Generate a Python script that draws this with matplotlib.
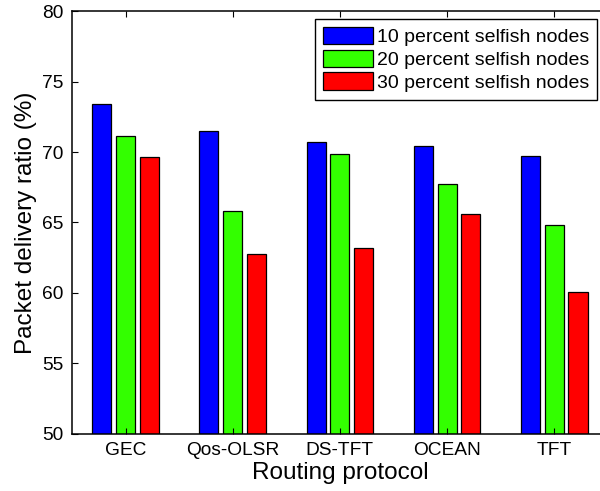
import numpy as np
import matplotlib
matplotlib.use('Agg')
import matplotlib.pyplot as plt

# Packet delivery ratio per routing protocol under different selfish-node rates
protocols = ['GEC', 'Qos-OLSR', 'DS-TFT', 'OCEAN', 'TFT']
series_labels = ['10 percent selfish nodes', '20 percent selfish nodes', '30 percent selfish nodes']
pdr_10 = [73.4, 71.5, 70.7, 70.45, 69.75]
pdr_20 = [71.15, 65.8, 69.85, 67.75, 64.8]
pdr_30 = [69.65, 62.75, 63.15, 65.6, 60.05]
colors = ['#0000ff', '#33ff00', '#ff0000']

plt.rcParams['font.family'] = ['Liberation Sans', 'DejaVu Sans']

fig = plt.figure(figsize=(6.0, 4.91), dpi=100)
ax = fig.add_axes([0.12, 0.117, 0.893, 0.860])

x = np.arange(1, len(protocols) + 1)
offset = 0.222
width = 0.178
for i, (vals, lab) in enumerate(zip([pdr_10, pdr_20, pdr_30], series_labels)):
    ax.bar(x + (i - 1) * offset, vals, width=width, color=colors[i],
           edgecolor='black', linewidth=0.9, label=lab)

ax.set_xlim(0.5, 5.5)
ax.set_ylim(50, 80)
ax.set_yticks(np.arange(50, 81, 5))
ax.set_xticks(x)
ax.set_xticklabels(protocols)
ax.tick_params(direction='in', length=4, width=0.8, labelsize=13.8,
               top=True, right=True, pad=6)
for s in ax.spines.values():
    s.set_linewidth(1.1)

ax.set_xlabel('Routing protocol', fontsize=17.5, labelpad=2)
ax.set_ylabel('Packet delivery ratio (%)', fontsize=17.5, labelpad=4)

leg = ax.legend(loc='upper right', bbox_to_anchor=(597 / 600, 1 - 19.3 / 491),
                bbox_transform=fig.transFigure, borderaxespad=0,
                fontsize=14, handlelength=2.57, handleheight=1.0,
                handletextpad=0.2, labelspacing=0.17, borderpad=0.4,
                fancybox=False, framealpha=1, edgecolor='black')
leg.get_frame().set_linewidth(1.0)

fig.savefig('out.png', dpi=100)
